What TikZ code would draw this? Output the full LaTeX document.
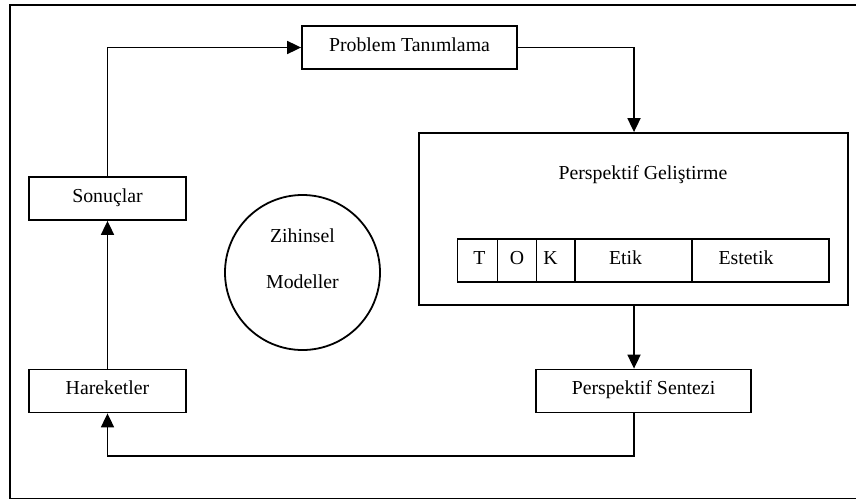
\documentclass[tikz,border=0pt]{standalone}
\usepackage{fontspec}
\setmainfont{Liberation Serif}
\usetikzlibrary{arrows.meta}

\begin{document}
\begin{tikzpicture}[x=1pt, y=-1pt,
  font=\fontsize{19.8}{22}\selectfont,
  every node/.style={inner sep=0pt, text height=0.76em, text depth=0pt},
  box/.style={draw, line width=1.8pt, rectangle, minimum height=43pt},
  cell/.style={draw, line width=1.8pt, rectangle, minimum height=43pt},
  flow/.style={line width=1.8pt, -{Triangle[length=14pt, width=13pt]}}
]
\useasboundingbox (0,0) rectangle (856,498);
\fill[white] (0,0) rectangle (856,498);

% outer frame (runs past the right and lower page edges)
\draw[line width=1.8pt] (10,5) rectangle (870,498.5);

% process boxes
\node[box, minimum width=215pt] (prob) at (409.5,47.5) {Problem Tanımlama};
\node[box, minimum width=157pt] (son)  at (107.5,198.5) {Sonuçlar};
\node[box, minimum width=157pt] (har)  at (107.5,391) {Hareketler};
\node[box, minimum width=215pt] (sen)  at (643.5,391) {Perspektif Sentezi};

% perspective development block
\node[draw, line width=1.8pt, minimum width=429pt, minimum height=172pt] (pg) at (633.5,219) {};
\node (pgt) at (643,175.5) {Perspektif Geliştirme};

% viewpoint table (padding nudges each label within its cell)
\node[cell, minimum width=40pt]  (ct) at (477.5,260.5) {\hspace*{4pt}T};
\node[cell, minimum width=39pt]  (co) at (517,260.5) {O};
\node[cell, minimum width=39pt]  (ck) at (556,260.5) {K\hspace*{11pt}};
\node[cell, minimum width=117pt] (ce) at (633.5,260.5) {Etik\hspace*{16pt}};
\node[cell, minimum width=137pt] (cs) at (760.5,260.5) {Estetik\hspace*{29pt}};

% mental models
\node[draw, circle, line width=1.8pt, minimum size=155pt] (zm) at (302.5,272.5) {};
\node (zm1) at (302.5,238.5) {Zihinsel};
\node (zm2) at (302.5,284.5) {Modeller};

% routing helpers
\coordinate (dx) at (634,0);
\coordinate (by) at (0,456);

% connectors
\draw[flow] (son.north) |- (prob.west);
\draw[flow] (prob.east) -| (dx |- pg.north);
\draw[flow] (dx |- pg.south) -- (dx |- sen.north);
\draw[flow] (dx |- sen.south) -- (dx |- by) -| (har.south);
\draw[flow] (har.north) -- (son.south);
\end{tikzpicture}
\end{document}
